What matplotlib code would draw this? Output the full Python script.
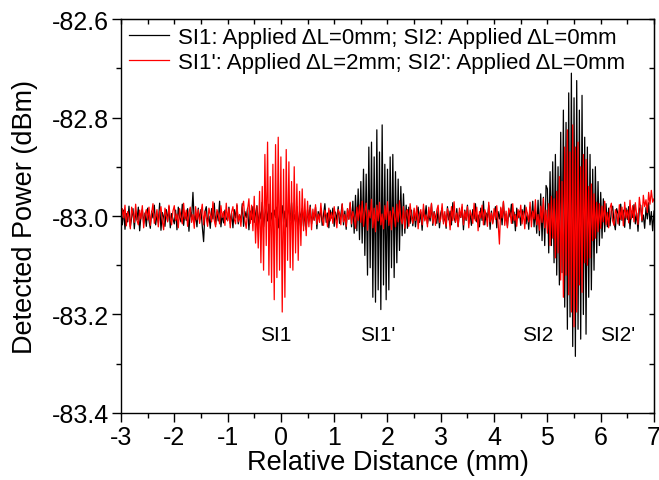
import numpy as np
import matplotlib
matplotlib.use("Agg")
from matplotlib import pyplot as plt
from matplotlib.ticker import MultipleLocator, FormatStrFormatter

plt.rcParams['font.family'] = ['Liberation Sans', 'DejaVu Sans']
plt.rcParams['axes.unicode_minus'] = False

# samples every 0.025 mm from -3 to 7 mm
x_start, x_stop, n_pts = -3.0, 7.0, 401
baseline = -83.0

# deviation from -83.0 dBm, in units of 0.001 dBm
black_mdb = [
    8, -18, 12, -27, 5, -12, 20, -22, -3, 15, -26, 9, -8, 18, -30, 0, 14, -15, 6, -21,
    16, -9, -25, 10, -4, 22, -18, 3, -13, 26, -29, 7, -2, -21, 13, -10, 19, -24, 5, -6,
    -16, 12, -28, 18, -3, -12, 24, -19, 6, -9, 15, -31, 10, -4, 48, -15, 2, -22, 16, -8,
    13, -21, -52, 9, 19, -13, 0, -25, 15, -6, 26, -18, 8, -10, 30, -22, 3, -14, 12, -5,
    -9, 18, -15, 6, -24, 13, -4, 22, -16, 2, -12, 25, -21, 9, -3, 16, -28, 10, -7, 19,
    -13, 5, 21, -18, 9, -6, 28, -22, 3, 15, -10, 24, -19, 6, -15, 12, -3, 18, -24, 8,
    -6, 21, -13, 10, -22, 5, 16, -9, 27, -18, 3, -12, 19, -25, 9, -4, 15, -21, 6, -28,
    13, -10, 22, -16, 4, -8, 18, -26, 9, -3, 15, -19, 2, 25, -13, 6, -24, 12, -4, 16,
    -21, 8, -9, 19, -15, 3, 24, -18, 10, -27, 15, -6, 26, -22, 30, -35, 42, -30, 55, -48,
    70, -55, 95, -80, 85, -120, 140, -105, 150, -165, 120, -175, 175, -150, 130, -190, 185, -140, 105, -170,
    95, -150, 120, -105, 125, -125, 90, -95, 75, -70, 60, -40, 45, -35, 22, -25, 18, -15, 12, -20,
    12, -22, 5, 18, -13, 8, -29, 15, -6, 21, -16, 3, -10, 24, -19, 9, -2, -15, 13, -24,
    6, 16, -12, 2, -25, 19, -8, 10, -18, 27, -4, -13, 15, -21, 8, -3, 18, -28, 12, -9,
    22, -15, 4, -19, 13, -6, 25, -12, 2, -22, 16, -9, 30, -18, 6, -4, 21, -27, 10, -13,
    3, 19, -24, 9, -6, 15, -18, 28, -10, 4, -21, 12, -2, 24, -15, 8, -30, 16, -4, 10,
    -19, 13, -3, 22, -16, 6, -27, 18, -9, 30, -22, 12, -35, 32, -40, 45, -50, 38, -60, 62,
    55, -75, 90, -60, 110, -95, 125, -120, 100, -140, 170, -115, 215, -185, 190, -230, 250, -205, 290, -265,
    240, -285, 275, -230, 215, -250, 245, -200, 160, -240, 140, -165, 125, -150, 95, -110, 100, -75, 70, -60,
    48, -45, 35, -32, 25, -22, 16, -20, 9, 20, -13, -28, 15, 4, -19, 24, -9, 12, -23, 16,
    -7, 19, -26, 10, -3, 23, -16, 6, -31, 13, 22, -12, 2, -25, 17, -6, 27, -18, 9, -30,
    10,
]

red_mdb = [
    -12, 15, -4, 22, -20, 9, -2, -26, 18, 4, -13, 24, -9, -18, 12, -6, 21, -24, 3, 13,
    -8, 18, -19, 6, 25, -15, -3, 13, -22, 9, 19, -10, -28, 16, 2, -12, 22, -4, -18, 10,
    21, -9, 4, -24, 15, -2, -16, 26, -6, 12, -21, 7, 18, -13, 3, -25, 19, -8, 13, -15,
    6, 24, -18, 10, -4, -21, 16, 3, -12, 29, -9, -22, 13, 4, -16, 21, -3, 9, -19, 26,
    -10, 15, -24, 8, 19, -6, -16, 25, -12, 3, -21, 18, 30, -9, -25, 13, 35, -15, 22, -30,
    40, -55, 20, -65, 50, -95, 60, -110, 125, -60, 150, -120, 80, -135, 105, -170, 145, -125, 160, -110,
    120, -195, 95, -165, 135, -90, 110, -105, 70, -110, 100, -75, 65, -90, 50, -60, 55, -30, 35, -40,
    30, -22, 18, -28, 14, -9, 23, -17, 4, -13, 26, -6, -19, 12, 2, -22, 16, -10, 7, -15,
    19, -4, -24, 13, 6, -18, 25, -12, 3, -21, 15, -7, 28, -16, 9, -3, -25, 18, -9, 22,
    -13, 30, -21, 7, 26, -29, 12, -4, 34, -24, 16, -32, 22, -10, 28, -18, 4, -26, 21, -7,
    29, -19, 10, -28, 18, 3, -22, 24, -12, 31, -6, -16, 19, -25, 9, 13, -21, 25, -3, -15,
    16, -9, 21, -26, 4, 13, -18, 24, -10, 2, -22, 18, -4, 26, -15, 7, -19, 12, 22, -13,
    -6, 25, -16, 9, -21, 15, 3, -28, 19, -9, 29, -13, 6, -22, 16, -3, 24, -18, 10, -7,
    19, -24, 12, 2, -15, 26, -10, 18, -30, 9, -4, 22, -18, 13, 3, -21, 28, -12, 6, -16,
    15, -7, 21, -13, -57, 18, -4, 30, -19, 10, -24, 16, 6, -15, 25, -9, 3, -21, 13, -3,
    22, -16, 9, -26, 18, 4, -12, 28, -22, 10, -6, 33, -18, 3, -29, 20, -13, 36, -24, 12,
    -35, 25, -60, 40, -45, 35, -85, 50, -75, 80, -130, 70, -165, 140, -120, 175, -160, 130, -195, 185,
    -225, 140, -195, 150, -140, 100, -155, 125, -95, 115, -100, 60, -85, 65, -50, 45, -45, 28, -32, 25,
    -25, 20, -12, 30, -18, 7, -24, 16, 26, -10, -19, 13, 4, -16, 23, -7, 18, -20, 28, -4,
    12, -14, 32, -6, 21, -12, 27, 3, -17, 38, 14, -9, 42, 19, 33, 7, 48, 24, 52, 28,
    35,
]

legend_labels = ["SI1: Applied \u0394L=0mm; SI2: Applied \u0394L=0mm",
                 "SI1': Applied \u0394L=2mm; SI2': Applied \u0394L=0mm"]
peak_names = ["SI1", "SI1'", "SI2", "SI2'"]
peak_x = [-0.1, 1.81, 4.81, 6.31]
peak_y = -83.24

x = np.linspace(x_start, x_stop, n_pts)
black = baseline + np.array(black_mdb) / 1000.0
red = baseline + np.array(red_mdb) / 1000.0

fig = plt.figure(figsize=(6.59, 4.81), dpi=100)
ax = fig.add_axes([0.1836, 0.1393, 0.8088, 0.8191])

ax.plot(x, black, color='black', lw=0.9, label=legend_labels[0])
ax.plot(x, red, color='red', lw=0.9, label=legend_labels[1])

for name, px in zip(peak_names, peak_x):
    ax.text(px, peak_y, name, ha='center', va='center', fontsize=15)

ax.set_xlim(-3, 7)
ax.set_ylim(-83.4, -82.6)
ax.xaxis.set_major_locator(MultipleLocator(1))
ax.xaxis.set_minor_locator(MultipleLocator(0.5))
ax.yaxis.set_major_locator(MultipleLocator(0.2))
ax.yaxis.set_minor_locator(MultipleLocator(0.1))
ax.yaxis.set_major_formatter(FormatStrFormatter('%.1f'))
ax.tick_params(which='both', direction='out', width=1.0, labelsize=18, pad=2)
ax.tick_params(which='major', length=6.5)
ax.tick_params(which='minor', length=3.5)
for sp in ax.spines.values():
    sp.set_linewidth(1.0)

# inward ticks on top and right, no labels
top = ax.secondary_xaxis('top')
top.xaxis.set_major_locator(MultipleLocator(0.5))
top.tick_params(direction='in', length=3.5, width=1.0, labeltop=False)
right = ax.secondary_yaxis('right')
right.yaxis.set_major_locator(MultipleLocator(0.1))
right.tick_params(direction='in', length=3.5, width=1.0, labelright=False)

ax.set_xlabel('Relative Distance (mm)', fontsize=19.5, labelpad=0)
ax.set_ylabel('Detected Power (dBm)', fontsize=19.5)
ax.yaxis.set_label_coords(-0.155, 0.5)

ax.legend(loc='upper left', frameon=False, fontsize=16, handlelength=1.8,
          handletextpad=0.4, borderaxespad=0.05, labelspacing=0.2,
          borderpad=0.3, bbox_to_anchor=(0.0, 1.0))

fig.savefig('out.png', dpi=100)
